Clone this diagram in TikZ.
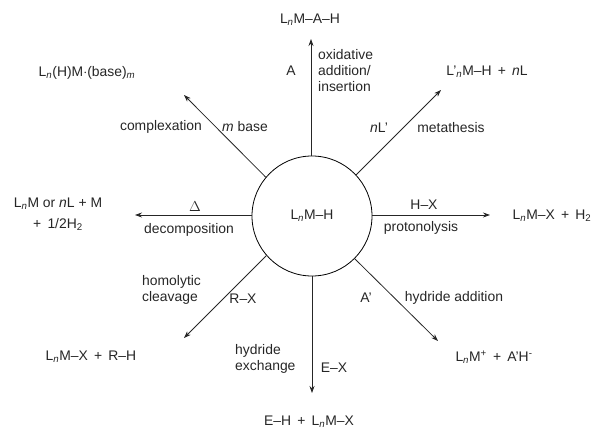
\documentclass[tikz,border=0pt]{standalone}
\usepackage{fontspec}
\setmainfont{Liberation Sans}
\usepackage{tikz}
\usetikzlibrary{arrows.meta,positioning}

\newcommand{\Ln}{L\textsubscript{\itshape n}}

\begin{document}
\begin{tikzpicture}[
  x=1pt, y=-1pt,
  every node/.style={align=center, font=\fontsize{13.9}{16}\selectfont, text=black!85, inner sep=0pt},
  hub/.style={draw, circle, minimum size=120pt, line width=0.8pt},
  arrow/.style={-{Stealth[length=7pt,width=5pt]}, line width=0.8pt, black!85},
  notes/.style={align=left, anchor=west}
]
  \useasboundingbox (0,0) rectangle (595,431);

  % Centre
  \node[hub] (hub) at (312,216) {\Ln M--H};

  % Arrow tips
  \coordinate (tipN) at (311,39);
  \coordinate (tipNE) at (441,90);
  \coordinate (tipE) at (490,215);
  \coordinate (tipSE) at (438,341);
  \coordinate (tipS) at (312,393);
  \coordinate (tipSW) at (184,338);
  \coordinate (tipW) at (135,215);
  \coordinate (tipNW) at (184,95);

  \draw[arrow] (hub.north -| tipN) -- (tipN);
  \draw[arrow] (hub.43) -- (tipNE);
  \draw[arrow] (hub.east |- tipE) -- (tipE);
  \draw[arrow] (hub.-45) -- (tipSE);
  \draw[arrow] (hub.south) -- (tipS);
  \draw[arrow] (hub.221) -- (tipSW);
  \draw[arrow] (hub.west |- tipW) -- (tipW);
  \draw[arrow] (hub.140) -- (tipNW);

  % Products
  \node (prodN) at (310,20) {\Ln M--A--H};
  \node (prodNE) at (487,72) {L'\textsubscript{\itshape n}M--H\, +\, \textit{n}L};
  \node (prodE) at (552,216) {\Ln M--X\, +\, H\textsubscript{2}};
  \node (prodSE) at (494,357) {\Ln M\textsuperscript{+}\, +\, A'H\textsuperscript{-}};
  \node (prodS) at (309,422) {E--H\, +\, \Ln M--X};
  \node (prodSW) at (91,357) {\Ln M--X\, +\, R--H};
  \node (prodW) at (58,204) {\Ln M or \textit{n}L + M};
  \node[below=8pt of prodW] (prodWb) {+\, 1/2H\textsubscript{2}};
  \node (prodNW) at (87,73) {\Ln(H)M$\cdot$(base)\textsubscript{\itshape m}};

  % Reagents
  \node (reagN) at (291,71) {A};
  \node (reagNE) at (379,128) {\textit{n}L'};
  \node (reagE) at (424,205) {H--X};
  \node (reagSE) at (366,298) {A'};
  \node (reagS) at (334,368) {E--X};
  \node (reagSW) at (243,299) {R--X};
  \node (reagW) at (195,207) {$\Delta$};
  \node (reagNW) at (245,127) {\textit{m} base};

  % Reaction names
  \node[notes] (nameN) at (318,71) {oxidative\\addition/\\insertion};
  \node (nameNE) at (451,128) {metathesis};
  \node (nameE) at (421,228) {protonolysis};
  \node (nameSE) at (454,298) {hydride addition};
  \node[notes] (nameS) at (235,359) {hydride\\exchange};
  \node[notes] (nameSW) at (142,290) {homolytic\\cleavage};
  \node (nameW) at (189,230) {decomposition};
  \node (nameNW) at (161,127) {complexation};
\end{tikzpicture}
\end{document}
